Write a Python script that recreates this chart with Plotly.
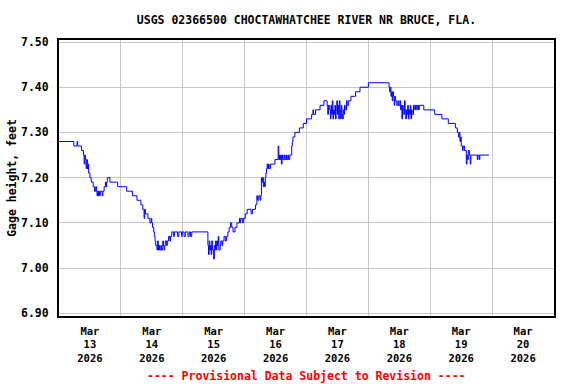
import pandas as pd
import plotly.graph_objects as go

# Hours since 2026-03-13 00:00 at which the stage changes, and the stage (ft)
hours = [
    0.0, 5.75, 7.0, 7.25, 8.75, 9.5, 9.75, 10.0, 10.25, 10.5, 10.75, 11.0, 11.25, 11.5,
    12.0, 12.5, 13.25, 13.75, 14.25, 14.5, 14.75, 15.0, 15.25, 15.5, 15.75, 16.0, 16.75,
    17.0, 17.5, 18.0, 18.25, 18.5, 18.75, 19.75, 22.75, 26.25, 28.5, 30.25, 31.75, 32.5,
    33.0, 33.25, 33.5, 34.5, 35.25, 35.75, 36.0, 36.25, 36.75, 37.0, 37.25, 37.5, 38.0,
    38.25, 38.5, 38.75, 39.0, 39.5, 39.75, 40.25, 40.5, 40.75, 41.0, 41.25, 41.75, 42.0,
    42.5, 43.0, 43.25, 43.75, 44.5, 44.75, 46.0, 46.5, 47.5, 47.75, 48.5, 49.0, 50.0,
    50.5, 51.0, 51.5, 57.75, 58.0, 58.25, 58.5, 58.75, 59.0, 59.25, 59.5, 60.0, 60.25,
    60.5, 60.75, 61.0, 61.25, 61.5, 61.75, 62.0, 62.5, 62.75, 63.25, 63.5, 64.0, 64.5,
    65.0, 65.5, 66.0, 66.5, 67.0, 67.5, 68.25, 69.0, 70.0, 70.25, 70.5, 71.25, 71.5,
    72.25, 73.0, 74.0, 74.5, 75.0, 76.25, 76.75, 77.0, 77.5, 78.0, 78.25, 78.5, 78.75,
    79.0, 79.25, 79.5, 79.75, 80.0, 80.25, 80.5, 80.75, 81.0, 81.25, 81.5, 82.0, 83.75,
    85.0, 85.25, 85.5, 85.75, 86.0, 86.25, 86.5, 86.75, 87.25, 87.5, 88.0, 88.25, 88.75,
    89.0, 89.5, 90.25, 90.5, 90.75, 91.5, 93.25, 94.75, 96.0, 98.0, 98.5, 98.75, 99.5,
    101.25, 102.75, 104.0, 104.25, 104.5, 105.0, 105.25, 105.5, 105.75, 106.0, 106.25,
    106.5, 106.75, 107.0, 107.25, 107.5, 107.75, 108.0, 108.25, 108.5, 108.75, 109.0,
    109.25, 109.5, 109.75, 110.0, 110.25, 110.5, 110.75, 111.0, 111.5, 111.75, 112.25,
    113.25, 115.0, 116.75, 120.0, 128.0, 128.25, 128.5, 128.75, 129.0, 129.25, 129.5,
    129.75, 130.0, 130.25, 130.5, 131.0, 131.5, 131.75, 132.25, 132.5, 132.75, 133.0,
    133.25, 133.5, 133.75, 134.0, 134.25, 134.5, 134.75, 135.0, 135.25, 135.5, 135.75,
    136.0, 136.25, 136.5, 136.75, 137.0, 137.5, 138.0, 138.25, 138.75, 139.0, 139.5,
    139.75, 141.5, 145.75, 148.5, 151.0, 153.75, 154.5, 155.0, 155.25, 155.5, 155.75,
    156.0, 156.5, 156.75, 157.25, 158.0, 158.25, 158.5, 158.75, 159.25, 159.5, 159.75,
    162.25, 162.5, 163.0, 163.25, 166.75,
]
stage = [
    7.28, 7.27, 7.28, 7.27, 7.26, 7.25, 7.23, 7.25, 7.24, 7.22, 7.24, 7.22, 7.23, 7.21,
    7.20, 7.19, 7.18, 7.17, 7.18, 7.17, 7.16, 7.17, 7.16, 7.17, 7.16, 7.17, 7.16,
    7.17, 7.18, 7.19, 7.18, 7.19, 7.20, 7.19, 7.18, 7.17, 7.16, 7.15, 7.14, 7.13,
    7.11, 7.13, 7.12, 7.11, 7.10, 7.11, 7.10, 7.09, 7.08, 7.07, 7.06, 7.05, 7.04,
    7.06, 7.04, 7.05, 7.04, 7.05, 7.04, 7.06, 7.05, 7.04, 7.05, 7.06, 7.05, 7.06,
    7.07, 7.06, 7.07, 7.08, 7.07, 7.08, 7.07, 7.08, 7.07, 7.08, 7.07, 7.08, 7.07,
    7.08, 7.07, 7.08, 7.05, 7.03, 7.06, 7.04, 7.05, 7.03, 7.06, 7.04, 7.02, 7.05,
    7.04, 7.06, 7.04, 7.06, 7.05, 7.07, 7.04, 7.05, 7.06, 7.05, 7.06, 7.07, 7.06,
    7.07, 7.08, 7.09, 7.10, 7.09, 7.08, 7.09, 7.10, 7.11, 7.10, 7.11, 7.10, 7.11,
    7.12, 7.13, 7.13, 7.12, 7.13, 7.14, 7.16, 7.15, 7.16, 7.15, 7.16, 7.20, 7.19,
    7.20, 7.18, 7.19, 7.18, 7.20, 7.21, 7.22, 7.23, 7.22, 7.23, 7.22, 7.23, 7.24,
    7.27, 7.24, 7.25, 7.24, 7.25, 7.23, 7.25, 7.24, 7.25, 7.24, 7.25, 7.24, 7.25,
    7.24, 7.25, 7.27, 7.28, 7.29, 7.30, 7.31, 7.32, 7.33, 7.34, 7.35, 7.34, 7.35,
    7.36, 7.37, 7.36, 7.34, 7.36, 7.35, 7.33, 7.36, 7.34, 7.37, 7.33,
    7.35, 7.34, 7.36, 7.33, 7.35, 7.37, 7.34, 7.36, 7.33, 7.37, 7.35,
    7.33, 7.36, 7.34, 7.33, 7.35, 7.34, 7.36, 7.35, 7.37, 7.36, 7.37,
    7.38, 7.39, 7.40, 7.41, 7.40, 7.39, 7.40, 7.38, 7.39, 7.37, 7.39,
    7.38, 7.36, 7.38, 7.37, 7.36, 7.37, 7.36, 7.37, 7.35, 7.36, 7.33,
    7.36, 7.35, 7.34, 7.37, 7.35, 7.33, 7.35, 7.34, 7.36, 7.33, 7.35,
    7.34, 7.36, 7.33, 7.35, 7.34, 7.36, 7.35, 7.36, 7.35, 7.36, 7.35,
    7.36, 7.35, 7.34, 7.33, 7.32, 7.31, 7.30, 7.29, 7.30, 7.28, 7.29,
    7.27, 7.26, 7.27, 7.26, 7.23, 7.25, 7.24, 7.26, 7.25, 7.23, 7.25,
    7.24, 7.25, 7.24, 7.25, 7.25,
]

day_numbers = ["13", "14", "15", "16", "17", "18", "19", "20"]
month_label = "Mar"
year_label = "2026"
y_ticks = [6.90, 7.00, 7.10, 7.20, 7.30, 7.40, 7.50]

base = pd.Timestamp("2026-03-13 00:00")
times = [base + pd.Timedelta(hours=h) for h in hours]
noon_ticks = [base + pd.Timedelta(days=i, hours=12) for i in range(len(day_numbers))]
midnight_grid = [base + pd.Timedelta(days=i) for i in range(1, len(day_numbers))]
tick_text = [f"{month_label}<br>{d}<br>{year_label}" for d in day_numbers]

FONT = "DejaVu Sans Mono"

fig = go.Figure()
fig.add_trace(go.Scatter(
    x=times, y=stage, mode="lines", line=dict(color="#0000ff", width=1, shape="hv"),
    showlegend=False, hoverinfo="skip",
))

fig.update_layout(
    width=576, height=384,
    margin=dict(l=59, r=22, t=40, b=68, autoexpand=False),
    paper_bgcolor="white", plot_bgcolor="white",
    font=dict(family=FONT, size=11.5, color="black", weight="bold"),
    hovermode=False,
    title=dict(
        text="USGS 02366500 CHOCTAWHATCHEE RIVER NR BRUCE, FLA.",
        x=0.532, xanchor="center", y=1 - 20 / 384, yanchor="middle",
        font=dict(family=FONT, size=11.5, color="black", weight="bold"),
    ),
    xaxis=dict(
        type="date", automargin=False,
        range=[base, base + pd.Timedelta(days=8)],
        tickmode="array", tickvals=noon_ticks, ticktext=tick_text,
        ticks="", showgrid=False, zeroline=False,
        showline=True, linecolor="black", linewidth=2, mirror=True,
        tickfont=dict(family=FONT, size=10.5, color="black", weight="bold"),
        ticklabelstandoff=4,
        minor=dict(tickmode="array", tickvals=midnight_grid, showgrid=True,
                   gridcolor="#c8c8c8", gridwidth=1, ticks=""),
    ),
    yaxis=dict(
        automargin=False,
        range=[6.894, 7.5045],
        tickmode="array", tickvals=y_ticks, ticktext=[f"{v:.2f}" for v in y_ticks],
        ticks="", showgrid=True, gridcolor="#c8c8c8", gridwidth=1, zeroline=False,
        showline=True, linecolor="black", linewidth=2, mirror=True,
        tickfont=dict(family=FONT, size=11.5, color="black", weight="bold"),
        ticklabelstandoff=6,
        title=dict(text="Gage height, feet", standoff=2,
                   font=dict(family=FONT, size=11.5, color="black", weight="bold")),
    ),
    annotations=[dict(
        text="---- Provisional Data Subject to Revision ----",
        xref="paper", yref="paper", x=0.5, y=-(376 - 316) / 276,
        xanchor="center", yanchor="middle", showarrow=False,
        font=dict(family=FONT, size=11.5, color="#ff0000", weight="bold"),
    )],
)

fig.write_html(
    "out.html",
    config={"displayModeBar": False, "staticPlot": True},
    post_script="document.body.style.margin='0px'; document.body.style.overflow='hidden';",
)
